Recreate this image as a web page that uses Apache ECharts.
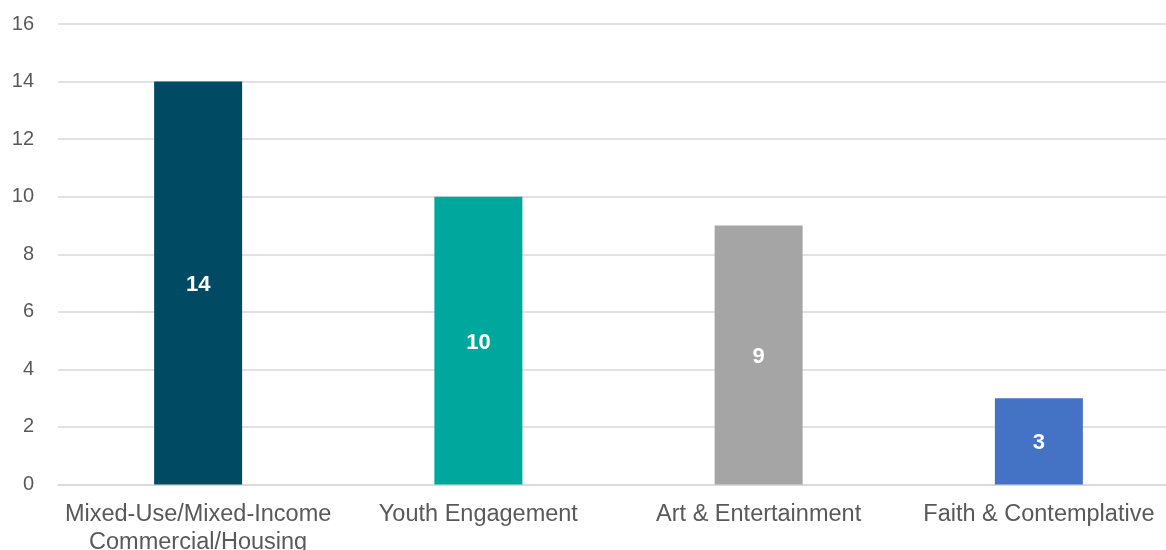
<!DOCTYPE html>
<html>
<head>
<meta charset="utf-8">
<script src="https://cdn.jsdelivr.net/npm/echarts@6/dist/echarts.min.js"></script>
<style>html,body{margin:0;padding:0;background:#fff;}#c{width:1166px;height:550px;}</style>
</head>
<body>
<div id="c"></div>
<script>
const categories = ['Mixed-Use/Mixed-Income\nCommercial/Housing', 'Youth Engagement', 'Art & Entertainment', 'Faith & Contemplative'];
const values = [14, 10, 9, 3];
const colors = ['#004B63', '#00A79D', '#A5A5A5', '#4472C4'];

const chart = echarts.init(document.getElementById('c'));
chart.setOption({
  animation: false,
  grid: { left: 58, width: 1121, top: 24, bottom: 65.5, containLabel: false, outerBoundsMode: 'none' },
  xAxis: {
    type: 'category',
    data: categories,
    axisLine: { show: true, lineStyle: { color: '#D9D9D9', width: 1.5 } },
    axisTick: { show: false },
    axisLabel: { color: '#595959', fontSize: 23.5, fontFamily: 'Liberation Sans, Arial, sans-serif', lineHeight: 28, margin: 16, interval: 0 }
  },
  yAxis: {
    type: 'value',
    min: 0, max: 16, interval: 2,
    axisLine: { show: false },
    axisTick: { show: false },
    splitLine: { lineStyle: { color: '#D9D9D9', width: 1.5 } },
    axisLabel: { color: '#595959', fontSize: 20, fontFamily: 'Liberation Sans, Arial, sans-serif', margin: 24 }
  },
  series: [{
    type: 'bar',
    data: values.map((v, i) => ({ value: v, itemStyle: { color: colors[i] } })),
    barWidth: '31.4%',
    label: { show: true, position: 'inside', offset: [0, 2], color: '#fff', fontWeight: 'bold', fontSize: 22, fontFamily: 'Liberation Sans, Arial, sans-serif' }
  }]
});
</script>
</body>
</html>
